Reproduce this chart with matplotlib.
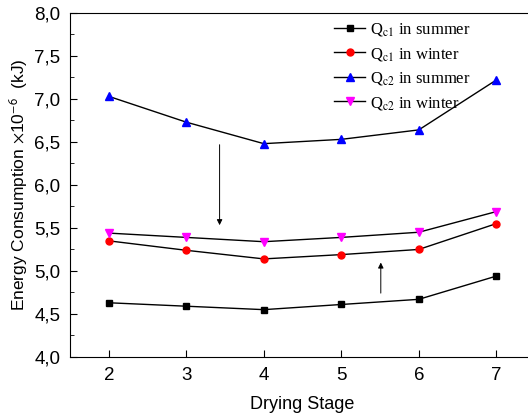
import matplotlib
import matplotlib.pyplot as plt
from matplotlib.ticker import FuncFormatter, MultipleLocator

matplotlib.use("Agg")
plt.rcParams["font.family"] = ["Liberation Sans", "DejaVu Sans"]
plt.rcParams["mathtext.fontset"] = "stix"

# drying stages and energy consumption (x10^-6 kJ)
stages = [2, 3, 4, 5, 6, 7]
qc1_summer = [4.63, 4.59, 4.55, 4.61, 4.67, 4.94]
qc1_winter = [5.35, 5.24, 5.14, 5.19, 5.25, 5.55]
qc2_summer = [7.03, 6.73, 6.48, 6.53, 6.64, 7.22]
qc2_winter = [5.44, 5.39, 5.34, 5.39, 5.45, 5.69]

fig = plt.figure(figsize=(5.28, 4.17), dpi=100)
ax = fig.add_axes([0.1326, 0.144, 0.8807, 0.825])

ax.plot(stages, qc1_summer, "-s", color="k", mfc="k", mec="k", ms=4.5, lw=1,
        label=r"Q$_{\rm c1}$ in summer")
ax.plot(stages, qc1_winter, "-o", color="k", mfc="red", mec="red", ms=5, lw=1,
        label=r"Q$_{\rm c1}$ in winter")
ax.plot(stages, qc2_summer, "-^", color="k", mfc="blue", mec="blue", ms=5.5, lw=1,
        label=r"Q$_{\rm c2}$ in summer")
ax.plot(stages, qc2_winter, "-v", color="k", mfc="magenta", mec="magenta", ms=5.5, lw=1,
        label=r"Q$_{\rm c2}$ in winter")

# arrows: summer -> winter
arrow = dict(arrowstyle="-|>", color="k", lw=0.7, mutation_scale=8)
ax.annotate("", xy=(3.43, 5.50), xytext=(3.43, 6.50), arrowprops=arrow)
ax.annotate("", xy=(5.51, 5.13), xytext=(5.51, 4.71), arrowprops=arrow)

ax.set_xlim(1.5, 7.5)
ax.set_ylim(4.0, 8.0)
ax.set_xticks(stages)
ax.yaxis.set_major_locator(MultipleLocator(0.5))
ax.yaxis.set_minor_locator(MultipleLocator(0.25))
ax.yaxis.set_major_formatter(FuncFormatter(lambda v, p: f"{v:.1f}".replace(".", ",")))
ax.tick_params(axis="both", which="both", direction="in", labelsize=13.5)
ax.tick_params(axis="both", which="major", length=5, pad=7)
ax.tick_params(axis="y", which="minor", length=3)

ax.set_xlabel("Drying Stage", fontsize=13, labelpad=9)
ax.set_ylabel(r"Energy Consumption $\times$10$^{\mathsf{-6}}$  (kJ)", fontsize=12.5, labelpad=3)

ax.legend(loc="upper left", bbox_to_anchor=(0.535, 1.02), frameon=False,
          prop={"family": ["Liberation Serif"], "size": 12},
          handlelength=1.9, handletextpad=0.3, labelspacing=0.45)

fig.savefig("out.png", dpi=100)
